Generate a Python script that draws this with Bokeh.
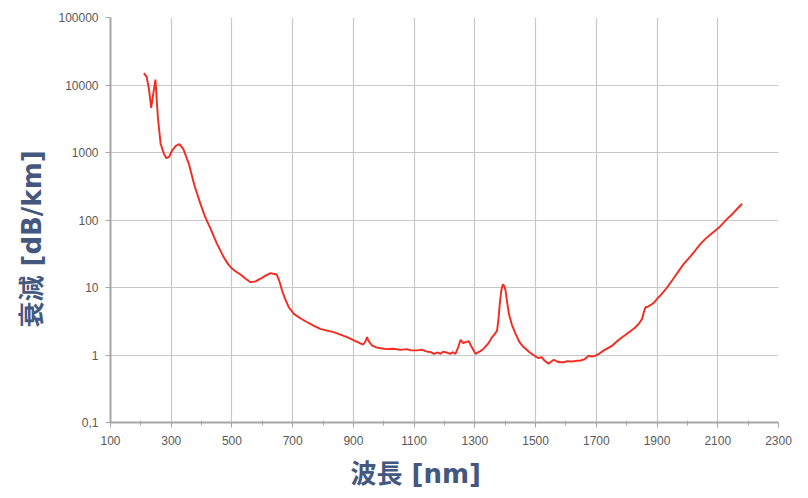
from bokeh.plotting import figure
from bokeh.models import FixedTicker, CustomJSTickFormatter, Title, Range1d
from bokeh.embed import file_html
from bokeh.resources import INLINE

wavelength = [210, 219, 227, 234, 241, 248, 256, 265, 276, 284, 293, 303, 315, 327, 340, 358, 376, 396, 412, 429, 450,
              473, 488, 501, 515, 528, 545, 561, 578, 594, 611, 627, 647, 656, 665, 676, 687, 704, 725, 748, 770,
              791, 813, 835, 857, 879, 905, 932, 940, 945, 950, 962, 975, 989, 1010, 1030, 1055, 1075, 1090, 1110,
              1125, 1140, 1155, 1165, 1178, 1187, 1195, 1209, 1218, 1228, 1236, 1245, 1253, 1262, 1269, 1280, 1290,
              1302, 1315, 1329, 1345, 1357, 1366, 1373, 1378, 1382, 1387, 1392, 1397, 1401, 1406, 1412, 1422, 1434,
              1447, 1461, 1480, 1500, 1510, 1520, 1530, 1543, 1552, 1560, 1570, 1580, 1593, 1605, 1620, 1635, 1648,
              1660, 1668, 1675, 1685, 1697, 1710, 1725, 1750, 1774, 1800, 1823, 1840, 1851, 1857, 1862, 1870, 1884,
              1892, 1900, 1915, 1933, 1950, 1965, 1988, 2010, 2025, 2043, 2060, 2080, 2103, 2118, 2131, 2150, 2165, 2180]
attenuation = [15000, 13200, 8500, 4600, 7500, 12000, 3300, 1350, 955, 824, 860, 1070, 1250, 1330, 1120, 680, 330, 175, 110, 75, 45,
               28, 22, 18.9, 17.0, 15.6, 13.5, 12.0, 12.3, 13.5, 15.0, 16.3, 15.6, 12.5, 9.0, 6.6, 5.1, 4.07, 3.5, 3.06, 2.7,
               2.44, 2.3, 2.18, 2.0, 1.84, 1.62, 1.43, 1.6, 1.84, 1.6, 1.38, 1.30, 1.26, 1.22, 1.24, 1.19, 1.22, 1.17, 1.17,
               1.20, 1.13, 1.10, 1.04, 1.09, 1.04, 1.12, 1.08, 1.04, 1.10, 1.04, 1.30, 1.68, 1.50, 1.55, 1.60, 1.30,
               1.04, 1.12, 1.24, 1.50, 1.84, 2.05, 2.3, 3.5, 5.7, 9.0, 11.1, 10.5, 9.0, 6.2, 4.07, 2.8, 2.06,
               1.55, 1.30, 1.10, 0.95, 0.90, 0.93, 0.82, 0.74, 0.80, 0.85, 0.80, 0.78, 0.78, 0.81, 0.80, 0.82, 0.83,
               0.86, 0.92, 0.98, 0.95, 0.98, 1.05, 1.17, 1.35, 1.68, 2.05, 2.44, 2.9, 3.44, 4.4, 5.1, 5.2, 5.7,
               6.1, 6.8, 8.0, 10.0, 12.8, 16.0, 22.4, 29.0, 35.0, 44.4, 53.0, 63.0, 76.6, 90.0, 104, 125, 148, 174]

x_ticks = [100, 300, 500, 700, 900, 1100, 1300, 1500, 1700, 1900, 2100, 2300]
x_minor = [200, 400, 600, 800, 1000, 1200, 1400, 1600, 1800, 2000, 2200]
y_ticks = [0.1, 1, 10, 100, 1000, 10000, 100000]

p = figure(width=808, height=498, y_axis_type="log", output_backend="svg", toolbar_location=None,
           x_range=Range1d(100, 2300), y_range=Range1d(0.1, 100000),
           min_border_left=110, min_border_right=30, min_border_top=17, min_border_bottom=76)
p.outline_line_color = None
p.background_fill_color = "white"
p.border_fill_color = "white"

p.line(wavelength, attenuation, line_color="#F42A1E", line_width=1.9)

p.xaxis.ticker = FixedTicker(ticks=x_ticks, minor_ticks=x_minor)
p.yaxis.ticker = FixedTicker(ticks=y_ticks, minor_ticks=[])
p.yaxis.formatter = CustomJSTickFormatter(code="return tick < 0.5 ? '0,1' : Math.round(tick).toString();")

for ax in (p.xaxis, p.yaxis):
    ax.axis_line_color = "#A6A6A6"
    ax.axis_line_width = 2
    ax.major_tick_line_color = "#A6A6A6"
    ax.minor_tick_line_color = "#A6A6A6"
    ax.major_tick_in = 0
    ax.major_tick_out = 5
    ax.minor_tick_in = 2
    ax.minor_tick_out = 3
    ax.major_label_text_font = "Liberation Sans"
    ax.major_label_text_font_size = "12px"
    ax.major_label_text_color = "#595959"
p.xaxis.major_label_standoff = 8
p.yaxis.major_label_standoff = 7

p.xgrid.grid_line_color = "#C8C8C8"
p.ygrid.grid_line_color = "#C8C8C8"
p.xgrid.grid_line_width = 1.2
p.ygrid.grid_line_width = 1.2

title_color = "#44587F"
title_font = "'DejaVu Sans', 'Noto Sans CJK JP'"
p.add_layout(Title(text="衰減 [dB/km]", text_font=title_font, text_font_style="bold",
                   text_font_size="26px", text_color=title_color, align="left", offset=95,
                   standoff=17), "left")
p.add_layout(Title(text="波長 [nm]", text_font=title_font, text_font_style="bold",
                   text_font_size="26px", text_color=title_color, align="left", offset=240,
                   standoff=19), "below")

open("out.html", "w").write(file_html(p, INLINE))
